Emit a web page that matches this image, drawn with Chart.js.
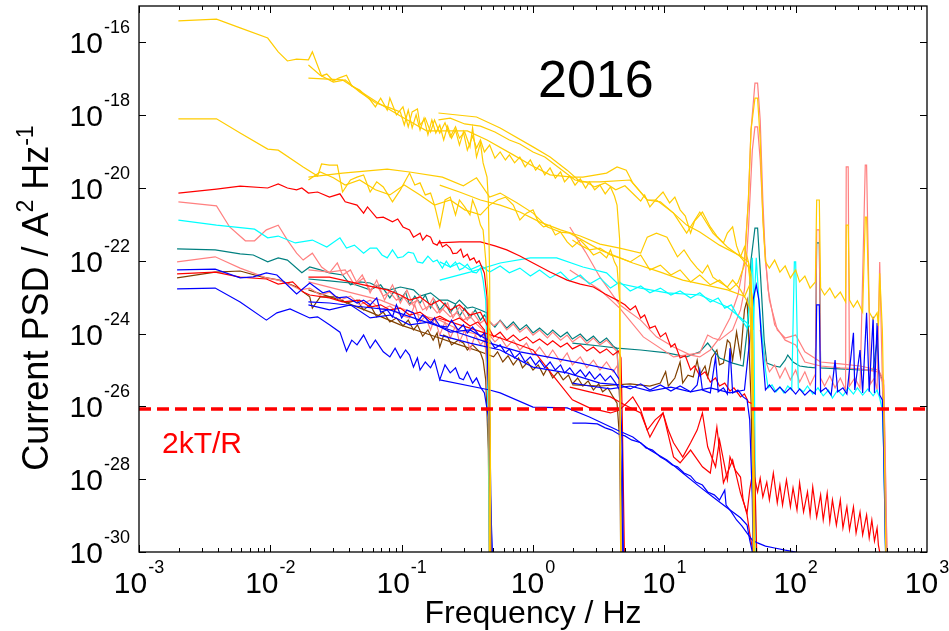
<!DOCTYPE html>
<html>
<head>
<meta charset="utf-8">
<script src="https://cdn.jsdelivr.net/npm/chart.js@4.4.1/dist/chart.umd.min.js"></script>
<style>
  html, body { margin: 0; padding: 0; background: #fff; }
  #wrap { width: 949px; height: 631px; }
</style>
</head>
<body>
<div id="wrap"><canvas id="psd" width="949" height="631"></canvas></div>
<script>
// every trace: [log10(f / Hz), log10(PSD / A^2 Hz^-1)]
// records sampled at 1, 10, 100 and 1000 Hz, so they fall off at 0.5, 5, 50 and 500 Hz

// gold record
const gold1 = [[-2.70,-15.41],[-2.41,-15.36],[-2.23,-15.60],[-2.02,-15.88],[-1.94,-16.26],[-1.87,-16.51],[-1.80,-16.46],[-1.71,-16.48],[-1.68,-16.26],[-1.61,-16.92],[-1.57,-16.87],[-1.52,-17.06],[-1.48,-16.98],[-1.42,-16.90],[-1.38,-17.20],[-1.32,-17.31],[-1.24,-17.58],[-1.20,-17.77],[-1.16,-17.53],[-1.11,-17.86],[-1.09,-17.53],[-1.04,-17.99],[-0.99,-17.77],[-0.95,-18.32],[-0.92,-17.91],[-0.88,-17.83],[-0.86,-18.27],[-0.82,-18.08],[-0.78,-18.46],[-0.75,-18.13],[-0.71,-18.49],[-0.67,-18.21],[-0.63,-18.60],[-0.59,-18.32],[-0.56,-18.63],[-0.52,-18.46],[-0.48,-18.87],[-0.46,-18.35],[-0.43,-19.15],[-0.40,-18.76],[-0.38,-19.31],[-0.35,-19.70],[-0.34,-20.33],[-0.33,-22.53],[-0.32,-31]];
const gold2 = [[-1.71,-16.98],[-1.45,-17.03],[-1.19,-17.64],[-1.01,-18.02],[-0.81,-18.43],[-0.50,-18.43],[-0.35,-18.68],[-0.15,-19.09],[0.00,-19.40],[0.13,-19.64],[0.30,-19.70],[0.38,-19.70],[0.56,-19.59],[0.64,-19.42],[0.71,-19.51],[0.76,-19.86],[0.87,-20.33],[0.94,-20.33],[1.07,-20.69],[1.17,-21.02],[1.27,-21.21],[1.42,-21.57],[1.58,-21.87],[1.64,-22.03],[1.66,-22.39],[1.675,-24.45],[1.69,-31]];
const gold3 = [[-0.72,-17.94],[-0.43,-18.05],[-0.25,-18.35],[0.00,-18.87],[0.13,-19.15],[0.26,-19.51],[0.36,-19.83],[0.51,-19.83],[0.74,-19.78],[0.87,-20.33],[0.97,-20.38],[1.07,-20.69],[1.17,-21.24],[1.27,-20.66],[1.37,-21.24],[1.48,-21.62],[1.58,-21.89],[1.64,-22.17],[1.67,-23.08],[1.68,-31]];
const gold4 = [[-1.71,-16.62],[-1.62,-16.90],[-1.52,-17.09],[-1.43,-17.03],[-1.32,-17.36],[-1.20,-17.66],[-1.09,-17.80],[-1.01,-17.91],[-0.98,-18.27],[-0.95,-17.86],[-0.92,-18.35],[-0.89,-17.99],[-0.86,-18.41],[-0.83,-18.08],[-0.80,-18.54],[-0.77,-18.13],[-0.74,-18.49],[-0.71,-18.27],[-0.68,-18.68],[-0.65,-18.30],[-0.62,-18.63],[-0.59,-18.41],[-0.56,-18.82],[-0.53,-18.46],[-0.50,-18.96],[-0.46,-18.57],[-0.43,-18.90],[-0.40,-18.68],[-0.37,-19.01],[-0.33,-18.82],[-0.29,-19.18],[-0.25,-19.01],[-0.21,-19.23],[-0.18,-19.09],[-0.14,-19.31],[-0.10,-19.15],[-0.06,-19.42],[-0.02,-19.23],[0.02,-19.51],[0.05,-19.37],[0.09,-19.64],[0.13,-19.45],[0.17,-19.73],[0.21,-19.56],[0.24,-19.83],[0.28,-19.67],[0.32,-19.92],[0.36,-19.75],[0.40,-20.00],[0.43,-19.83],[0.47,-20.05],[0.51,-19.92],[0.55,-20.16],[0.59,-19.97],[0.62,-20.22],[0.64,-20.47],[0.66,-21.43],[0.67,-31]];
const gold5 = [[-0.72,-18.13],[-0.63,-18.08],[-0.52,-18.24],[-0.40,-18.30],[-0.29,-18.46],[-0.18,-18.68],[-0.10,-18.79],[0.00,-19.01],[0.09,-19.15],[0.17,-19.37],[0.24,-19.56],[0.32,-19.78],[0.40,-19.83],[0.47,-19.97],[0.55,-19.86],[0.63,-20.05],[0.70,-19.94],[0.78,-20.22],[0.82,-20.36],[0.85,-20.19],[0.89,-20.52],[0.94,-20.30],[0.99,-20.11],[1.04,-20.41],[1.08,-20.25],[1.12,-20.60],[1.16,-20.77],[1.20,-21.24],[1.23,-20.91],[1.29,-20.66],[1.35,-21.07],[1.40,-21.32],[1.45,-21.51],[1.48,-21.24],[1.52,-21.07],[1.55,-21.59],[1.58,-21.89],[1.61,-21.62],[1.64,-22.03],[1.67,-23.08],[1.68,-31]];
const gold6 = [[0.30,-21.43],[0.36,-21.57],[0.43,-21.70],[0.51,-21.65],[0.59,-21.84],[0.66,-21.92],[0.74,-22.03],[0.82,-21.84],[0.89,-22.25],[0.97,-22.12],[1.05,-22.39],[1.12,-22.25],[1.20,-22.58],[1.27,-22.39],[1.35,-22.66],[1.42,-22.53],[1.50,-22.80],[1.56,-22.61],[1.61,-22.12],[1.64,-20.33],[1.66,-18.41],[1.69,-17.53],[1.71,-17.53],[1.73,-18.68],[1.75,-20.88],[1.77,-22.03],[1.80,-22.20],[1.84,-21.98],[1.88,-22.31],[1.92,-22.14],[1.96,-22.47],[2.00,-22.25],[2.03,-22.58],[2.07,-22.42],[2.11,-22.75],[2.15,-22.58],[2.16,-20.33],[2.18,-20.33],[2.19,-22.75],[2.22,-22.94],[2.26,-22.75],[2.30,-23.02],[2.34,-22.86],[2.38,-23.13],[2.385,-21.02],[2.40,-21.02],[2.41,-23.08],[2.44,-23.27],[2.47,-23.10],[2.51,-23.41],[2.53,-20.80],[2.54,-20.80],[2.56,-23.41],[2.59,-23.60],[2.62,-23.43],[2.63,-23.79],[2.64,-22.34],[2.66,-23.90],[2.67,-25.82],[2.69,-31]];
const gold7 = [[-2.70,-18.10],[-2.41,-18.10],[-2.23,-18.49],[-2.02,-18.93],[-1.94,-18.96],[-1.75,-19.42],[-1.64,-19.67],[-1.61,-19.34],[-1.55,-19.37],[-1.49,-19.37],[-1.45,-20.11],[-1.39,-19.78],[-1.34,-19.70],[-1.29,-19.64],[-1.24,-20.11],[-1.19,-19.83],[-1.14,-19.97],[-1.07,-20.38],[-1.01,-20.05],[-0.94,-19.59],[-0.90,-19.92],[-0.86,-19.86],[-0.82,-20.19],[-0.78,-20.14],[-0.75,-20.47],[-0.71,-21.07],[-0.67,-20.33],[-0.63,-20.25],[-0.59,-20.74],[-0.56,-20.33],[-0.52,-20.52],[-0.48,-20.74],[-0.46,-20.33],[-0.43,-20.60],[-0.40,-21.02],[-0.38,-21.15],[-0.36,-21.98],[-0.34,-23.08],[-0.33,-31]];
const gold8 = [[-1.71,-19.70],[-1.45,-19.59],[-1.11,-19.48],[-0.94,-19.56],[-0.69,-19.70],[-0.53,-19.94],[-0.43,-19.72],[-0.33,-20.25],[-0.25,-20.14],[-0.12,-20.41],[0.00,-20.69],[0.11,-21.07],[0.21,-21.21],[0.28,-21.24],[0.51,-21.70],[0.76,-22.06],[0.97,-22.31],[1.14,-22.53],[1.31,-22.66],[1.48,-22.80],[1.61,-22.97],[1.66,-23.35],[1.675,-25.82],[1.69,-31]];
const gold9 = [[-1.71,-19.78],[-1.62,-19.56],[-1.52,-19.72],[-1.43,-19.92],[-1.32,-19.78],[-1.20,-20.05],[-1.09,-20.19],[-0.98,-19.92],[-0.86,-20.19],[-0.75,-20.47],[-0.63,-20.33],[-0.52,-20.60],[-0.40,-20.74],[-0.33,-20.47],[-0.27,-20.33],[-0.21,-20.25],[-0.15,-20.47],[-0.10,-20.88],[-0.05,-20.69],[0.00,-20.60],[0.04,-20.93],[0.08,-21.07],[0.13,-21.02],[0.17,-21.29],[0.21,-21.21],[0.26,-21.48],[0.30,-21.62],[0.36,-21.43],[0.41,-21.62],[0.46,-21.84],[0.51,-21.76],[0.56,-21.92],[0.59,-21.70],[0.62,-22.03],[0.64,-22.17],[0.66,-23.08],[0.67,-31]];
const gold10 = [[-0.71,-19.92],[-0.56,-20.11],[-0.40,-20.33],[-0.25,-20.47],[-0.10,-20.66],[0.05,-20.93],[0.21,-21.15],[0.36,-21.32],[0.51,-21.54],[0.66,-21.65],[0.82,-21.79],[0.87,-21.35],[0.94,-21.24],[1.02,-21.35],[1.10,-21.89],[1.15,-21.70],[1.20,-21.98],[1.25,-22.20],[1.29,-22.34],[1.33,-22.12],[1.37,-22.45],[1.42,-22.58],[1.48,-22.72],[1.52,-22.53],[1.58,-22.80],[1.61,-22.99],[1.65,-22.66],[1.675,-26.92],[1.69,-31]];

// red record
const red1 = [[-2.70,-20.14],[-2.41,-20.03],[-2.23,-19.95],[-2.02,-20.00],[-1.94,-19.89],[-1.87,-20.00],[-1.80,-20.05],[-1.76,-20.00],[-1.71,-20.14],[-1.64,-20.11],[-1.55,-20.25],[-1.47,-20.16],[-1.43,-20.38],[-1.34,-20.47],[-1.29,-20.69],[-1.26,-20.52],[-1.19,-20.82],[-1.14,-20.80],[-1.07,-20.93],[-1.03,-20.85],[-0.99,-21.07],[-0.94,-21.15],[-0.91,-21.35],[-0.86,-21.24],[-0.84,-21.43],[-0.81,-21.30],[-0.78,-21.35],[-0.76,-21.52],[-0.73,-21.57],[-0.71,-21.45],[-0.69,-21.62],[-0.66,-21.55],[-0.63,-21.65],[-0.61,-21.80],[-0.58,-21.79],[-0.55,-21.68],[-0.53,-21.90],[-0.50,-21.82],[-0.48,-21.98],[-0.45,-21.92],[-0.43,-22.06],[-0.41,-22.00],[-0.39,-22.17],[-0.37,-22.34],[-0.35,-22.99],[-0.34,-24.81],[-0.33,-26.65],[-0.32,-31]];
const red2 = [[-0.72,-21.51],[-0.56,-21.48],[-0.40,-21.48],[-0.29,-21.59],[-0.20,-21.70],[-0.10,-21.87],[0.00,-22.06],[0.13,-22.31],[0.26,-22.53],[0.36,-22.64],[0.46,-22.72],[0.55,-22.91],[0.64,-23.08],[0.70,-23.21],[0.74,-23.35],[0.78,-23.24],[0.82,-23.57],[0.85,-23.49],[0.89,-23.85],[0.93,-23.79],[0.97,-24.09],[1.01,-23.98],[1.05,-24.37],[1.08,-24.28],[1.12,-24.67],[1.16,-24.61],[1.20,-25.00],[1.23,-24.89],[1.27,-25.16],[1.31,-25.05],[1.35,-25.33],[1.39,-25.22],[1.42,-25.44],[1.46,-25.36],[1.50,-25.58],[1.53,-25.49],[1.58,-25.74],[1.61,-25.66],[1.64,-25.88],[1.675,-25.93],[1.69,-28.02],[1.71,-31]];
const red3 = [[-2.71,-22.36],[-2.42,-22.31],[-2.23,-22.45],[-2.03,-22.50],[-1.94,-22.64],[-1.83,-22.58],[-1.75,-22.86],[-1.70,-22.94],[-1.55,-23.02],[-1.45,-23.13],[-1.32,-23.08],[-1.24,-23.27],[-1.16,-23.21],[-1.09,-23.35],[-1.01,-23.30],[-0.94,-23.49],[-0.86,-23.41],[-0.78,-23.63],[-0.71,-23.52],[-0.63,-23.68],[-0.56,-23.57],[-0.48,-23.79],[-0.42,-23.68],[-0.37,-23.90],[-0.35,-24.31],[-0.33,-26.37],[-0.32,-31]];
const red4 = [[-1.71,-22.45],[-1.55,-22.45],[-1.29,-22.66],[-1.11,-22.80],[-1.01,-22.94],[-0.94,-23.08],[-0.86,-22.99],[-0.78,-23.21],[-0.71,-23.08],[-0.63,-23.35],[-0.56,-23.21],[-0.48,-23.49],[-0.40,-23.41],[-0.35,-23.76],[-0.30,-24.09],[-0.25,-23.96],[-0.20,-24.18],[-0.15,-24.04],[-0.10,-24.20],[-0.05,-24.09],[0.00,-24.26],[0.05,-24.15],[0.11,-24.31],[0.15,-24.20],[0.21,-24.37],[0.26,-24.26],[0.30,-24.42],[0.36,-24.31],[0.41,-24.48],[0.46,-24.37],[0.51,-24.53],[0.56,-24.42],[0.61,-24.59],[0.65,-24.48],[0.67,-24.67],[0.68,-26.37],[0.70,-31]];
const red5 = [[-0.72,-23.57],[-0.48,-23.85],[-0.25,-24.12],[0.00,-24.45],[0.15,-25.14],[0.30,-25.82],[0.43,-26.04],[0.59,-26.18],[0.66,-26.10],[0.76,-25.74],[0.82,-26.10],[0.87,-26.65],[0.93,-26.37],[0.99,-26.18],[1.03,-26.65],[1.07,-27.00],[1.14,-27.39],[1.20,-27.00],[1.25,-26.65],[1.29,-26.18],[1.33,-27.11],[1.39,-27.66],[1.42,-26.92],[1.48,-28.02],[1.50,-27.39],[1.54,-27.75],[1.58,-27.94],[1.60,-28.57],[1.63,-28.98],[1.65,-29.48],[1.675,-30.00],[1.69,-31]];
const red6 = [[0.28,-25.47],[0.43,-25.60],[0.59,-25.74],[0.70,-25.96],[0.82,-26.18],[0.89,-26.84],[0.99,-26.18],[1.07,-27.39],[1.12,-27.55],[1.20,-27.20],[1.29,-27.66],[1.35,-27.83],[1.40,-26.57],[1.45,-28.10],[1.52,-27.47],[1.58,-28.38],[1.63,-28.93],[1.65,-28.30],[1.675,-27.75],[1.71,-28.35],[1.73,-27.97],[1.75,-28.49],[1.78,-28.08],[1.80,-28.57],[1.83,-27.83],[1.86,-28.65],[1.88,-28.16],[1.90,-28.71],[1.93,-28.02],[1.96,-28.76],[1.98,-28.24],[2.01,-28.85],[2.03,-28.10],[2.06,-28.90],[2.09,-28.35],[2.11,-28.98],[2.13,-28.21],[2.16,-29.04],[2.19,-28.43],[2.21,-29.12],[2.24,-28.38],[2.26,-29.17],[2.28,-28.57],[2.31,-29.26],[2.34,-28.57],[2.36,-29.34],[2.39,-28.76],[2.41,-29.39],[2.44,-28.76],[2.46,-29.48],[2.49,-28.90],[2.51,-29.53],[2.54,-28.98],[2.56,-29.61],[2.58,-29.12],[2.60,-29.70],[2.62,-29.34],[2.63,-29.81],[2.64,-30.00],[2.66,-31]];

// pink record
const pink1 = [[-2.70,-20.38],[-2.41,-20.49],[-2.31,-21.07],[-2.19,-21.45],[-2.12,-21.45],[-2.03,-21.15],[-1.94,-21.02],[-1.87,-21.43],[-1.80,-21.79],[-1.75,-21.98],[-1.68,-21.79],[-1.61,-22.17],[-1.55,-22.33],[-1.49,-22.06],[-1.45,-22.39],[-1.39,-22.25],[-1.34,-22.61],[-1.29,-22.47],[-1.24,-22.80],[-1.19,-22.66],[-1.14,-22.97],[-1.09,-22.86],[-1.04,-23.08],[-0.99,-22.97],[-0.94,-23.21],[-0.88,-23.08],[-0.84,-23.35],[-0.78,-23.21],[-0.73,-23.43],[-0.69,-23.32],[-0.63,-23.54],[-0.58,-23.43],[-0.53,-23.63],[-0.48,-23.52],[-0.43,-23.74],[-0.38,-23.90],[-0.36,-24.45],[-0.34,-26.37],[-0.33,-31]];
const pink2 = [[-2.71,-22.03],[-2.42,-21.89],[-2.23,-22.20],[-2.03,-22.47],[-1.94,-22.53],[-1.85,-22.66],[-1.77,-22.80],[-1.70,-22.75],[-1.62,-22.94],[-1.55,-22.86],[-1.47,-23.08],[-1.39,-22.97],[-1.32,-23.21],[-1.24,-23.08],[-1.16,-23.35],[-1.09,-23.24],[-1.01,-23.49],[-0.94,-23.57],[-0.90,-23.21],[-0.86,-23.68],[-0.82,-23.52],[-0.78,-23.90],[-0.75,-23.57],[-0.71,-24.04],[-0.67,-23.68],[-0.63,-24.12],[-0.59,-23.79],[-0.56,-24.23],[-0.52,-23.90],[-0.48,-24.45],[-0.44,-24.04],[-0.40,-24.31],[-0.37,-24.18],[-0.35,-24.73],[-0.33,-26.65],[-0.32,-31]];
const pink3 = [[-1.71,-22.25],[-1.55,-22.31],[-1.43,-22.25],[-1.36,-22.66],[-1.30,-22.39],[-1.24,-22.88],[-1.19,-22.53],[-1.13,-23.08],[-1.07,-22.66],[-1.01,-23.16],[-0.96,-22.80],[-0.91,-23.24],[-0.86,-22.94],[-0.81,-23.35],[-0.76,-23.02],[-0.71,-23.43],[-0.65,-23.16],[-0.61,-23.57],[-0.56,-23.27],[-0.50,-23.63],[-0.46,-23.41],[-0.40,-23.71],[-0.35,-23.57],[-0.30,-23.79],[-0.25,-23.65],[-0.20,-23.90],[-0.15,-23.74],[-0.10,-23.96],[-0.05,-23.82],[0.00,-24.04],[0.05,-23.90],[0.11,-24.12],[0.15,-23.96],[0.21,-24.18],[0.26,-24.04],[0.30,-24.23],[0.36,-24.07],[0.41,-24.28],[0.46,-24.12],[0.51,-24.31],[0.56,-24.18],[0.61,-24.37],[0.64,-24.50],[0.66,-25.82],[0.68,-31]];
const pink4 = [[-1.71,-22.58],[-1.47,-22.80],[-1.16,-23.08],[-1.01,-23.30],[-0.86,-23.49],[-0.71,-23.63],[-0.56,-23.90],[-0.40,-24.04],[-0.33,-24.04],[-0.29,-24.23],[-0.25,-24.09],[-0.20,-24.37],[-0.15,-24.18],[-0.10,-24.45],[-0.05,-24.26],[0.00,-24.59],[0.05,-24.37],[0.11,-24.67],[0.15,-24.45],[0.21,-24.78],[0.26,-24.53],[0.30,-24.86],[0.36,-24.64],[0.41,-24.94],[0.46,-24.73],[0.51,-25.00],[0.56,-24.78],[0.61,-25.05],[0.64,-24.89],[0.66,-25.27],[0.68,-31]];
const pink5 = [[0.28,-21.07],[0.40,-21.76],[0.51,-22.45],[0.66,-23.21],[0.82,-23.63],[0.94,-24.09],[1.07,-24.37],[1.20,-24.59],[1.27,-24.64],[1.35,-24.45],[1.42,-24.12],[1.50,-23.57],[1.56,-22.94],[1.61,-21.98],[1.64,-20.33],[1.66,-18.41],[1.69,-17.12],[1.71,-17.12],[1.73,-18.13],[1.75,-20.33],[1.77,-21.98],[1.80,-23.08],[1.86,-23.90],[1.92,-24.12],[2.00,-24.04],[2.07,-24.50],[2.19,-24.78],[2.34,-24.83],[2.49,-24.89],[2.63,-25.00],[2.67,-25.27],[2.68,-26.92],[2.70,-31]];
const pink6 = [[0.28,-22.25],[0.51,-22.80],[0.66,-23.30],[0.84,-24.09],[1.07,-24.64],[1.27,-24.53],[1.33,-24.04],[1.37,-24.12],[1.42,-24.18],[1.52,-23.90],[1.58,-23.35],[1.61,-22.80],[1.64,-21.15],[1.67,-18.96],[1.69,-18.32],[1.71,-18.32],[1.73,-19.23],[1.76,-21.43],[1.79,-22.80],[1.84,-23.76],[1.92,-24.18],[2.00,-24.31],[2.07,-24.78],[2.19,-24.89],[2.34,-24.94],[2.49,-24.97],[2.63,-25.05],[2.67,-25.41],[2.68,-27.20],[2.70,-31]];
const pink7 = [[1.73,-23.90],[1.77,-24.73],[1.80,-25.05],[1.84,-24.86],[1.88,-25.22],[1.92,-24.94],[1.96,-25.27],[2.00,-25.00],[2.03,-25.33],[2.07,-25.05],[2.11,-25.41],[2.15,-25.11],[2.16,-21.15],[2.18,-21.15],[2.19,-25.22],[2.22,-25.44],[2.26,-25.16],[2.30,-25.49],[2.34,-25.22],[2.38,-25.55],[2.385,-19.42],[2.40,-19.42],[2.41,-25.44],[2.45,-25.22],[2.49,-25.49],[2.53,-19.37],[2.54,-19.37],[2.57,-25.38],[2.60,-25.22],[2.62,-25.55],[2.64,-22.03],[2.66,-25.27],[2.67,-26.65],[2.69,-31]];

// cyan record
const cyan1 = [[-2.70,-20.88],[-2.41,-21.02],[-2.12,-21.13],[-2.02,-21.37],[-1.94,-21.32],[-1.81,-21.51],[-1.68,-21.43],[-1.57,-21.62],[-1.47,-21.37],[-1.42,-21.65],[-1.36,-21.57],[-1.29,-21.79],[-1.24,-21.65],[-1.19,-21.65],[-1.15,-21.84],[-1.11,-21.92],[-1.07,-21.70],[-1.03,-21.92],[-0.99,-21.89],[-0.95,-21.76],[-0.91,-21.79],[-0.88,-22.03],[-0.84,-22.06],[-0.80,-21.87],[-0.76,-22.03],[-0.73,-21.98],[-0.69,-22.20],[-0.66,-22.01],[-0.63,-22.17],[-0.59,-22.03],[-0.56,-22.25],[-0.53,-22.20],[-0.50,-22.09],[-0.46,-22.31],[-0.43,-22.33],[-0.40,-22.20],[-0.38,-22.53],[-0.36,-23.08],[-0.34,-26.37],[-0.33,-31]];
const cyan2 = [[-0.71,-22.53],[-0.48,-22.31],[-0.25,-22.06],[-0.02,-21.92],[0.18,-21.92],[0.38,-22.17],[0.56,-22.33],[0.64,-22.61],[0.82,-22.75],[1.02,-22.88],[1.27,-22.94],[1.48,-23.27],[1.63,-23.71],[1.67,-23.90],[1.68,-31]];
const cyan3 = [[-0.71,-22.03],[-0.63,-22.17],[-0.56,-22.06],[-0.48,-22.25],[-0.40,-22.12],[-0.33,-22.31],[-0.25,-22.14],[-0.18,-22.33],[-0.10,-22.20],[-0.02,-22.42],[0.05,-22.25],[0.13,-22.47],[0.21,-22.31],[0.28,-22.55],[0.36,-22.39],[0.43,-22.64],[0.51,-22.47],[0.59,-22.75],[0.66,-22.58],[0.74,-22.83],[0.82,-22.69],[0.89,-22.88],[0.97,-22.75],[1.05,-22.94],[1.12,-22.83],[1.20,-23.02],[1.27,-22.88],[1.35,-23.13],[1.41,-23.02],[1.46,-23.30],[1.51,-23.21],[1.56,-23.52],[1.60,-23.68],[1.63,-23.85],[1.65,-23.08],[1.67,-21.92],[1.68,-23.08],[1.70,-31]];
const cyan4 = [[1.675,-23.90],[1.70,-21.92],[1.72,-23.08],[1.74,-23.90],[1.77,-25.00],[1.79,-25.49],[1.82,-25.41],[1.85,-25.60],[1.88,-25.47],[1.91,-25.63],[1.94,-25.44],[1.97,-25.55],[1.99,-22.03],[2.00,-22.03],[2.02,-25.49],[2.06,-25.60],[2.09,-25.44],[2.13,-25.66],[2.17,-25.49],[2.21,-25.71],[2.25,-25.55],[2.28,-25.77],[2.32,-25.55],[2.36,-25.71],[2.40,-25.49],[2.44,-25.66],[2.47,-25.49],[2.51,-25.69],[2.55,-25.52],[2.59,-25.71],[2.62,-25.55],[2.64,-25.77],[2.66,-26.10],[2.67,-27.20],[2.69,-31]];

// teal record
const teal1 = [[-2.71,-21.67],[-2.42,-21.70],[-2.23,-21.81],[-2.13,-21.84],[-2.02,-22.03],[-1.94,-21.92],[-1.87,-21.98],[-1.76,-22.33],[-1.70,-22.17],[-1.62,-22.25],[-1.55,-22.33],[-1.45,-22.39],[-1.39,-22.66],[-1.32,-22.58],[-1.24,-22.61],[-1.16,-22.75],[-1.09,-22.80],[-1.01,-22.72],[-0.91,-22.80],[-0.86,-22.97],[-0.78,-22.88],[-0.71,-23.08],[-0.65,-23.08],[-0.59,-23.19],[-0.56,-23.08],[-0.50,-23.30],[-0.46,-23.27],[-0.40,-23.35],[-0.35,-23.43],[-0.33,-25.82],[-0.32,-31]];
const teal2 = [[-1.71,-22.50],[-1.55,-22.55],[-1.39,-22.61],[-1.24,-22.80],[-1.16,-22.66],[-1.09,-23.02],[-1.05,-22.80],[-1.01,-23.08],[-0.97,-22.86],[-0.94,-23.21],[-0.90,-22.97],[-0.86,-23.16],[-0.82,-22.94],[-0.78,-23.30],[-0.75,-23.08],[-0.71,-23.35],[-0.67,-23.16],[-0.63,-23.43],[-0.59,-23.21],[-0.56,-23.52],[-0.52,-23.30],[-0.48,-23.57],[-0.44,-23.35],[-0.40,-23.63],[-0.37,-23.49],[-0.33,-23.68],[-0.29,-23.82],[-0.25,-23.63],[-0.20,-23.85],[-0.15,-23.68],[-0.10,-23.90],[-0.05,-23.76],[0.00,-23.98],[0.05,-23.85],[0.11,-24.04],[0.15,-23.90],[0.21,-24.09],[0.26,-23.96],[0.30,-24.15],[0.36,-24.01],[0.41,-24.20],[0.46,-24.07],[0.51,-24.26],[0.56,-24.12],[0.61,-24.34],[0.64,-24.42],[0.66,-25.82],[0.68,-31]];
const teal3 = [[0.30,-24.26],[0.51,-24.34],[0.64,-24.40],[0.82,-24.45],[1.02,-24.53],[1.17,-24.64],[1.27,-24.50],[1.33,-24.26],[1.37,-24.45],[1.42,-24.67],[1.52,-24.81],[1.60,-24.89],[1.64,-23.63],[1.66,-21.98],[1.69,-21.10],[1.71,-21.10],[1.73,-22.25],[1.76,-24.18],[1.78,-24.81],[1.84,-24.89],[1.88,-24.92],[1.92,-24.73],[1.94,-24.59],[1.98,-24.78],[2.03,-24.89],[2.09,-24.92],[2.15,-24.94],[2.16,-21.51],[2.18,-21.51],[2.19,-24.94],[2.34,-24.97],[2.49,-25.00],[2.59,-25.00],[2.62,-24.18],[2.63,-25.00],[2.66,-25.27],[2.67,-26.92],[2.69,-31]];

// blue record
const blue1 = [[-2.71,-22.77],[-2.42,-22.75],[-2.23,-23.13],[-2.03,-23.63],[-1.95,-23.43],[-1.85,-23.32],[-1.70,-23.57],[-1.64,-23.54],[-1.55,-23.76],[-1.47,-23.96],[-1.42,-24.48],[-1.38,-24.18],[-1.34,-24.31],[-1.29,-24.04],[-1.24,-24.40],[-1.20,-24.18],[-1.14,-24.50],[-1.09,-24.64],[-1.05,-24.40],[-1.01,-24.67],[-0.97,-24.45],[-0.94,-24.59],[-0.91,-24.92],[-0.88,-24.67],[-0.86,-25.00],[-0.82,-24.78],[-0.78,-24.94],[-0.75,-24.73],[-0.71,-25.27],[-0.67,-24.86],[-0.63,-25.08],[-0.59,-24.94],[-0.56,-25.22],[-0.53,-25.27],[-0.50,-25.05],[-0.46,-25.36],[-0.43,-25.22],[-0.40,-25.47],[-0.37,-25.63],[-0.34,-26.29],[-0.33,-27.83],[-0.30,-31]];
const blue2 = [[-0.71,-25.27],[-0.33,-25.55],[-0.25,-25.63],[0.00,-26.02],[0.26,-26.04],[0.43,-26.29],[0.64,-26.65],[0.76,-26.84],[0.89,-27.20],[1.02,-27.47],[1.14,-27.83],[1.27,-28.21],[1.37,-28.49],[1.48,-28.79],[1.58,-29.06],[1.63,-29.26],[1.65,-29.67],[1.67,-30.00],[1.68,-31]];
const blue3 = [[0.30,-26.46],[0.40,-26.46],[0.49,-26.48],[0.55,-26.59],[0.60,-26.65],[0.65,-26.76],[0.70,-26.81],[0.75,-26.92],[0.82,-27.00],[0.86,-27.14],[0.91,-27.20],[0.97,-27.39],[1.01,-27.47],[1.06,-27.61],[1.10,-27.66],[1.15,-27.83],[1.20,-27.91],[1.24,-28.08],[1.29,-28.16],[1.33,-28.35],[1.38,-28.43],[1.42,-28.57],[1.46,-28.30],[1.47,-28.71],[1.51,-28.90],[1.55,-29.12],[1.59,-29.28],[1.63,-29.48],[1.67,-29.67],[1.71,-29.75],[1.77,-29.84],[1.84,-29.89],[1.92,-29.95],[2.00,-30.00],[2.03,-30.20]];
const blue4 = [[-2.71,-22.25],[-2.42,-22.23],[-2.23,-22.47],[-2.13,-22.44],[-2.03,-22.33],[-1.95,-22.39],[-1.80,-22.91],[-1.70,-22.61],[-1.60,-22.88],[-1.55,-22.83],[-1.49,-23.02],[-1.42,-22.99],[-1.34,-23.16],[-1.29,-23.08],[-1.24,-23.21],[-1.19,-23.02],[-1.16,-23.41],[-1.11,-23.35],[-1.07,-23.54],[-1.04,-23.21],[-1.00,-23.57],[-0.96,-23.35],[-0.91,-23.43],[-0.88,-23.68],[-0.84,-23.49],[-0.78,-23.71],[-0.75,-23.57],[-0.71,-23.79],[-0.65,-23.82],[-0.62,-23.63],[-0.57,-23.90],[-0.53,-23.76],[-0.50,-23.98],[-0.46,-23.82],[-0.40,-24.09],[-0.37,-23.98],[-0.35,-24.37],[-0.33,-26.37],[-0.31,-31]];
const blue5 = [[-1.71,-23.13],[-1.55,-23.16],[-1.29,-23.27],[-1.09,-23.35],[-0.86,-23.63],[-0.63,-23.90],[-0.33,-24.26],[-0.10,-24.50],[0.11,-24.64],[0.36,-24.81],[0.61,-25.00],[0.66,-25.27],[0.68,-27.20],[0.69,-31]];
const blue6 = [[-1.71,-23.21],[-1.55,-23.35],[-1.39,-23.21],[-1.24,-23.57],[-1.09,-23.49],[-0.94,-23.76],[-0.78,-23.68],[-0.63,-23.96],[-0.48,-23.90],[-0.37,-24.12],[-0.33,-24.18],[-0.29,-24.40],[-0.25,-24.31],[-0.21,-24.53],[-0.18,-24.42],[-0.14,-24.67],[-0.10,-24.53],[-0.06,-24.78],[-0.02,-24.64],[0.02,-24.86],[0.05,-24.73],[0.09,-24.94],[0.13,-24.78],[0.17,-25.00],[0.21,-24.86],[0.24,-25.08],[0.28,-24.94],[0.32,-25.14],[0.36,-25.00],[0.40,-25.19],[0.43,-25.05],[0.47,-25.25],[0.51,-25.11],[0.55,-25.30],[0.59,-25.16],[0.63,-25.36],[0.66,-25.55],[0.67,-27.47],[0.69,-31]];
const blue7 = [[-0.71,-24.04],[-0.48,-24.26],[-0.25,-24.45],[0.00,-24.92],[0.26,-25.08],[0.51,-25.36],[0.66,-25.41],[0.74,-25.52],[0.82,-25.38],[0.89,-25.55],[0.97,-25.41],[1.05,-25.58],[1.12,-25.44],[1.20,-25.60],[1.25,-25.41],[1.27,-25.00],[1.29,-25.55],[1.35,-25.63],[1.39,-24.64],[1.41,-25.60],[1.45,-25.49],[1.48,-25.66],[1.50,-24.40],[1.52,-25.63],[1.56,-25.55],[1.60,-25.74],[1.63,-25.82],[1.65,-26.37],[1.67,-28.57],[1.68,-31]];
const blue8 = [[0.30,-25.36],[0.43,-25.44],[0.59,-25.52],[0.74,-25.44],[0.89,-25.58],[1.05,-25.47],[1.20,-25.60],[1.35,-25.49],[1.50,-25.63],[1.61,-25.55],[1.65,-24.18],[1.675,-23.08],[1.70,-22.66],[1.72,-23.08],[1.74,-24.18],[1.77,-25.55],[1.80,-25.41],[1.84,-25.60],[1.88,-25.47],[1.92,-25.63],[1.96,-25.49],[2.00,-25.66],[2.03,-25.52],[2.07,-25.69],[2.11,-25.55],[2.15,-25.66],[2.16,-23.21],[2.18,-23.21],[2.19,-25.60],[2.23,-25.49],[2.27,-25.69],[2.30,-24.73],[2.32,-25.60],[2.36,-25.49],[2.39,-25.66],[2.44,-23.98],[2.45,-25.55],[2.49,-24.45],[2.51,-25.63],[2.54,-23.43],[2.56,-25.60],[2.59,-23.54],[2.60,-25.63],[2.62,-23.71],[2.64,-25.69],[2.66,-25.82],[2.67,-27.20],[2.69,-31]];

// brown record
const brown1 = [[-2.71,-22.47],[-2.42,-22.31],[-2.23,-22.28],[-2.06,-22.45],[-1.93,-22.53],[-1.80,-22.72],[-1.70,-22.99],[-1.68,-23.30],[-1.62,-22.99],[-1.49,-22.99],[-1.42,-23.16],[-1.34,-23.08],[-1.29,-23.35],[-1.24,-23.21],[-1.19,-23.54],[-1.14,-23.41],[-1.09,-23.68],[-1.04,-23.57],[-0.99,-23.79],[-0.95,-23.63],[-0.91,-23.90],[-0.88,-23.76],[-0.84,-24.07],[-0.80,-23.90],[-0.76,-24.18],[-0.73,-23.98],[-0.71,-24.37],[-0.68,-24.04],[-0.65,-24.09],[-0.62,-24.31],[-0.57,-24.18],[-0.53,-24.26],[-0.50,-24.45],[-0.46,-24.31],[-0.40,-24.53],[-0.38,-24.73],[-0.36,-25.27],[-0.34,-27.20],[-0.33,-31]];
const brown2 = [[-1.71,-22.80],[-1.47,-23.08],[-1.24,-23.41],[-1.01,-23.76],[-0.78,-24.04],[-0.56,-24.31],[-0.40,-24.50],[-0.30,-24.64],[-0.27,-24.50],[-0.23,-24.78],[-0.19,-24.61],[-0.15,-24.86],[-0.11,-24.67],[-0.08,-24.94],[-0.04,-24.78],[0.00,-25.00],[0.04,-24.86],[0.08,-25.14],[0.11,-24.94],[0.15,-25.22],[0.19,-25.05],[0.23,-25.27],[0.27,-25.14],[0.30,-25.38],[0.34,-25.22],[0.38,-25.44],[0.42,-25.30],[0.46,-25.55],[0.50,-25.38],[0.53,-25.60],[0.57,-25.49],[0.61,-25.74],[0.64,-25.91],[0.66,-26.92],[0.67,-31]];
const brown3 = [[0.30,-25.41],[0.51,-25.44],[0.74,-25.38],[0.89,-25.44],[0.97,-25.36],[1.01,-25.05],[1.03,-25.44],[1.08,-25.22],[1.12,-24.78],[1.14,-25.36],[1.18,-25.14],[1.22,-25.19],[1.25,-24.73],[1.27,-25.14],[1.31,-24.89],[1.33,-25.19],[1.36,-24.67],[1.40,-24.45],[1.42,-24.86],[1.45,-24.81],[1.48,-24.18],[1.50,-24.26],[1.52,-24.73],[1.55,-23.96],[1.58,-24.64],[1.61,-23.35],[1.63,-23.08],[1.64,-23.90],[1.66,-25.82],[1.675,-28.57],[1.69,-31]];

// 2kT/R thermal noise level
const thermalFloor = 8.5e-27;

// tick labels are powers of ten
const xTickPowers = [-3, -2, -1, 0, 1, 2, 3];
const yTickPowers = [-16, -18, -20, -22, -24, -26, -28, -30];

const GOLD = '#FFCC00', RED = '#FF0000', PINK = '#FF8080', CYAN = '#00FFFF',
      TEAL = '#008080', BLUE = '#0000FF', BROWN = '#804000';

// first entry is drawn on top
const traces = [
  [gold1, GOLD], [gold4, GOLD], [gold7, GOLD], [gold9, GOLD], [gold2, GOLD], [gold3, GOLD],
  [gold5, GOLD], [gold6, GOLD], [gold8, GOLD], [gold10, GOLD],
  [blue1, BLUE], [blue4, BLUE], [blue6, BLUE], [blue5, BLUE], [blue8, BLUE], [blue7, BLUE],
  [blue2, BLUE], [blue3, BLUE],
  [red1, RED], [red4, RED], [red3, RED], [red2, RED], [red6, RED], [red5, RED],
  [cyan1, CYAN], [cyan3, CYAN], [cyan4, CYAN], [cyan2, CYAN],
  [pink7, PINK], [pink1, PINK], [pink2, PINK], [pink3, PINK], [pink4, PINK], [pink5, PINK], [pink6, PINK],
  [teal1, TEAL], [teal2, TEAL], [teal3, TEAL],
  [brown1, BROWN], [brown2, BROWN], [brown3, BROWN]
];

const datasets = [{
  data: [{ x: 1e-3, y: thermalFloor }, { x: 1e3, y: thermalFloor }],
  borderColor: RED,
  borderWidth: 3.5,
  borderDash: [12, 6]
}].concat(traces.map(([pts, color]) => ({
  data: pts.map(([lf, lp]) => ({ x: Math.pow(10, lf), y: Math.pow(10, lp) })),
  borderColor: color,
  borderWidth: 1.2
})));

const FONT = '"Liberation Sans", Arial, Helvetica, sans-serif';

// "10" with a raised exponent; anchor is the centre (align 'center') or right edge
function drawPower(ctx, p, ax, baseline, align) {
  ctx.font = '30px ' + FONT;
  const wb = ctx.measureText('10').width;
  ctx.font = '18px ' + FONT;
  const we = ctx.measureText(String(p)).width;
  const total = wb + 1 + we;
  const x0 = align === 'center' ? ax - total / 2 : ax - total;
  ctx.font = '30px ' + FONT;
  ctx.fillText('10', x0, baseline);
  ctx.font = '18px ' + FONT;
  ctx.fillText(String(p), x0 + wb + 1, baseline - 20);
}

// text runs with optional superscripts, laid out from x along the baseline
function drawRuns(ctx, runs, x, baseline, size) {
  const sup = Math.round(size * 0.65), rise = Math.round(size * 0.42);
  let cx = x;
  for (const [txt, isSup] of runs) {
    ctx.font = (isSup ? sup : size) + 'px ' + FONT;
    ctx.fillText(txt, cx, isSup ? baseline - rise : baseline);
    cx += ctx.measureText(txt).width;
  }
}
function runsWidth(ctx, runs, size) {
  const sup = Math.round(size * 0.65);
  let w = 0;
  for (const [txt, isSup] of runs) {
    ctx.font = (isSup ? sup : size) + 'px ' + FONT;
    w += ctx.measureText(txt).width;
  }
  return w;
}

const axesFrame = {
  id: 'axesFrame',
  afterDatasetsDraw(chart) {
    const { ctx, chartArea: a, scales: { x, y } } = chart;
    ctx.save();
    ctx.strokeStyle = '#000';
    ctx.lineWidth = 1.3;
    ctx.strokeRect(a.left, a.top, a.right - a.left, a.bottom - a.top);

    ctx.beginPath();
    for (let e = -3; e <= 2; e++) {
      for (let m = 1; m <= 9; m++) {
        const px = Math.round(x.getPixelForValue(m * Math.pow(10, e))) + 0.5;
        const len = m === 1 ? 7 : 4;
        ctx.moveTo(px, a.bottom); ctx.lineTo(px, a.bottom - len);
        ctx.moveTo(px, a.top); ctx.lineTo(px, a.top + len);
      }
    }
    for (const p of yTickPowers) {
      const py = Math.round(y.getPixelForValue(Math.pow(10, p))) + 0.5;
      ctx.moveTo(a.left, py); ctx.lineTo(a.left + 7, py);
      ctx.moveTo(a.right, py); ctx.lineTo(a.right - 7, py);
    }
    ctx.lineWidth = 1;
    ctx.stroke();

    ctx.fillStyle = '#000';
    ctx.textBaseline = 'alphabetic';
    ctx.textAlign = 'left';
    for (const p of xTickPowers) {
      drawPower(ctx, p, x.getPixelForValue(Math.pow(10, p)), a.bottom + 41, 'center');
    }
    for (const p of yTickPowers) {
      drawPower(ctx, p, a.left - 9, y.getPixelForValue(Math.pow(10, p)) + 11, 'right');
    }

    // axis titles
    const xt = [['Frequency / Hz', false]];
    drawRuns(ctx, xt, (a.left + a.right) / 2 - runsWidth(ctx, xt, 32) / 2, 623, 32);

    const yt = [['Current PSD / A', false], ['2', true], [' Hz', false], ['-1', true]];
    ctx.save();
    ctx.translate(48, 298);
    ctx.rotate(-Math.PI / 2);
    drawRuns(ctx, yt, -runsWidth(ctx, yt, 36) / 2, 0, 36);
    ctx.restore();

    // year and thermal-noise annotation
    ctx.font = '52px ' + FONT;
    ctx.fillText('2016', 538, 97);
    ctx.fillStyle = RED;
    ctx.font = '30px ' + FONT;
    ctx.fillText('2kT/R', 162, 453);
    ctx.restore();
  }
};

new Chart(document.getElementById('psd'), {
  type: 'line',
  data: { datasets },
  options: {
    responsive: false,
    animation: false,
    events: [],
    layout: { padding: { left: 139, right: 22, top: 6, bottom: 79 } },
    elements: { point: { radius: 0 }, line: { tension: 0 } },
    plugins: { legend: { display: false }, tooltip: { enabled: false } },
    scales: {
      x: { type: 'logarithmic', min: 1e-3, max: 1e3, display: false },
      y: { type: 'logarithmic', min: 1e-30, max: 1e-15, display: false }
    }
  },
  plugins: [axesFrame]
});
</script>
</body>
</html>
